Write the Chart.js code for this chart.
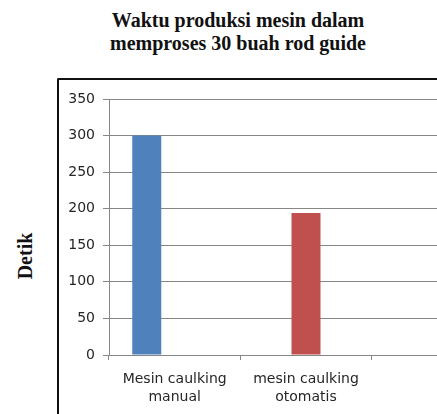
<!DOCTYPE html>
<html>
<head>
<meta charset="utf-8">
<script src="https://cdn.jsdelivr.net/npm/chart.js@4"></script>
<style>
    html, body { margin: 0; padding: 0; background: #fff; }
    #wrap { position: relative; width: 437px; height: 414px; overflow: hidden; }
    #frame { position: absolute; left: 57px; top: 78px; width: 500px; height: 400px;
             border-top: 2px solid #111; border-left: 2px solid #111; border-top-left-radius: 2px; }
    #title { position: absolute; left: 88px; width: 300px; top: 9px; text-align: center;
             font: bold 20px "Liberation Serif", "Times New Roman", serif; line-height: 23px; color: #111; }
    #ytitle { position: absolute; left: 25px; top: 256px; transform: translate(-50%, -50%) rotate(-90deg);
              font: bold 20px "Liberation Serif", "Times New Roman", serif; color: #111; white-space: nowrap; }
    #chartBox { position: absolute; left: 0; top: 0; width: 506px; height: 414px; }
</style>
</head>
<body>
<div id="wrap">
    <div id="frame"></div>
    <div id="title">Waktu produksi mesin dalam<br>memproses 30 buah rod guide</div>
    <div id="ytitle">Detik</div>
    <div id="chartBox"><canvas id="chart" width="506" height="414"></canvas></div>
</div>
<script>
    // data
    const categories = [['Mesin caulking', 'manual'], ['mesin caulking', 'otomatis'], ''];
    const manualValues = [300, null, null];
    const otomatisValues = [0, 194, null];
    const yTicks = [0, 50, 100, 150, 200, 250, 300, 350];

    const colors = {
        blue: '#4F81BD',
        red: '#C0504D',
        grid: '#868686',
        text: '#262626'
    };

    new Chart(document.getElementById('chart'), {
        type: 'bar',
        data: {
            labels: categories,
            datasets: [{
                label: 'manual',
                data: manualValues,
                backgroundColor: colors.blue,
                borderWidth: 0
            }, {
                label: 'otomatis',
                data: otomatisValues,
                backgroundColor: colors.red,
                borderWidth: 0
            }]
        },
        options: {
            responsive: false,
            animation: false,
            skipNull: true,
            categoryPercentage: 0.85,
            barPercentage: 0.9,
            maxBarThickness: 29,
            layout: {
                padding: { top: 99, right: 3, left: 0, bottom: 0 }
            },
            plugins: {
                legend: { display: false },
                tooltip: { enabled: false }
            },
            scales: {
                x: {
                    offset: true,
                    grid: {
                        offset: true,
                        drawOnChartArea: false,
                        drawTicks: true,
                        tickLength: 5,
                        color: colors.grid
                    },
                    border: { color: colors.grid },
                    ticks: {
                        color: colors.text,
                        padding: 11,
                        maxRotation: 0,
                        autoSkip: false,
                        font: { family: 'DejaVu Sans', size: 14, lineHeight: 1.25 }
                    },
                    afterFit: scale => { scale.height = 59; }
                },
                y: {
                    min: 0,
                    max: yTicks[yTicks.length - 1],
                    afterBuildTicks: scale => { scale.ticks = yTicks.map(v => ({ value: v })); },
                    grid: {
                        color: colors.grid,
                        tickLength: 6
                    },
                    border: { color: colors.grid },
                    ticks: {
                        color: colors.text,
                        padding: 8,
                        font: { family: 'DejaVu Sans', size: 14 }
                    },
                    afterFit: scale => { scale.width = 109; }
                }
            }
        }
    });
</script>
</body>
</html>
